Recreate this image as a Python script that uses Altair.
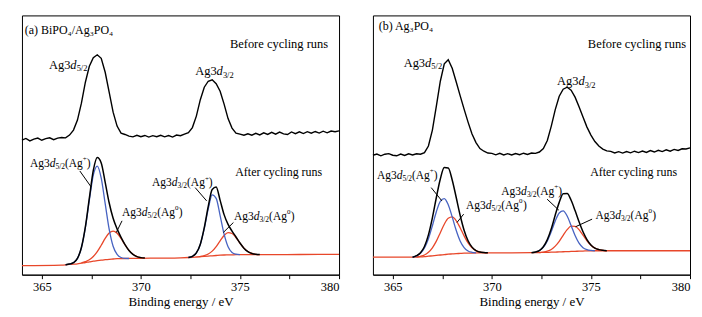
import altair as alt
import pandas as pd

FONT = "Liberation Serif"
BLACK = "#000000"
BLUE = "#4763c2"
RED = "#e8472a"

# ---------------- data (binding energy in eV, intensity in arbitrary units) ----------------
STEP = 0.2
BEFORE_X = [round(364 + STEP * i, 1) for i in range(81)]

BEFORE_A = [135.0, 136.6, 134.2, 135.9, 137.0, 134.8, 136.4, 137.3, 135.4, 136.9,
            137.5, 137.2, 140.0, 145.0, 155.0, 172.0, 193.0, 209.0, 217.5, 220.5,
            217.0, 203.0, 183.0, 163.0, 149.0, 142.0, 140.6, 139.0, 138.2, 139.8,
            138.4, 139.6, 138.0, 139.4, 138.3, 139.8, 138.2, 139.5, 138.0, 140.0,
            139.4, 141.0, 142.5, 147.5, 159.0, 175.5, 188.0, 194.0, 195.5, 191.5,
            184.0, 171.0, 156.5, 147.0, 142.0, 140.9, 139.8, 141.3, 139.9, 141.8,
            140.2, 142.2, 140.6, 142.8, 140.9, 143.0, 141.2, 140.6, 143.1, 141.4,
            143.2, 141.5, 143.4, 141.9, 143.6, 142.0, 143.9, 142.3, 144.0, 143.4,
            144.2]

BEFORE_B = [119.8, 121.0, 119.2, 120.8, 121.4, 119.8, 119.2, 120.9, 119.6, 121.2,
            120.0, 121.3, 120.8, 122.4, 129.0, 145.0, 169.0, 194.0, 211.5, 215.5,
            207.0, 193.5, 179.5, 166.0, 153.0, 141.0, 132.5, 126.5, 123.8, 122.0,
            121.6, 120.2, 121.7, 120.1, 121.4, 120.0, 121.5, 120.3, 121.8, 120.6,
            122.0, 121.6, 123.0, 126.5, 134.5, 149.0, 165.5, 179.0, 186.0, 188.0,
            185.0, 178.0, 168.5, 158.0, 148.0, 140.0, 133.5, 129.0, 126.0, 124.2,
            123.6, 122.0, 123.4, 121.9, 123.5, 122.2, 123.8, 122.4, 124.0, 122.6,
            124.4, 123.0, 124.7, 123.4, 125.2, 123.8, 125.6, 124.6, 126.2, 126.0,
            127.2]

BASE_A_X = [364.0, 366.0, 366.2, 366.4, 366.6, 366.8, 367.0, 367.2, 367.4, 367.6, 367.8,
            368.0, 368.2, 368.4, 368.6, 368.8, 369.0, 369.2, 369.6, 370.0, 371.0, 372.0,
            372.4, 372.6, 372.8, 373.0, 373.2, 373.4, 373.6, 373.8, 374.0, 374.2, 374.4,
            374.6, 374.8, 376.0, 378.0, 380.0]
BASE_A_Y = [9.0, 9.5, 9.8, 10.3, 10.5, 10.8, 11.5, 12.2, 12.8, 13.5, 14.0,
            14.5, 15.0, 15.4, 15.7, 16.0, 16.1, 16.2, 16.3, 16.4, 16.6, 16.9,
            17.2, 17.4, 17.7, 18.0, 18.3, 18.6, 18.9, 19.2, 19.5, 19.7, 19.8,
            19.9, 20.0, 20.1, 20.2, 20.3]

BASE_B_X = [364.0, 366.0, 366.2, 366.4, 366.6, 366.8, 367.0, 367.2, 367.4, 367.6, 367.8,
            368.0, 368.2, 368.4, 368.6, 368.8, 369.0, 369.4, 370.0, 372.0, 372.2, 372.4,
            372.6, 372.8, 373.0, 373.2, 373.4, 373.6, 373.8, 374.0, 374.2, 374.4, 374.6,
            374.8, 375.0, 380.0]
BASE_B_Y = [17.5, 17.5, 17.6, 17.8, 18.1, 18.5, 18.9, 19.3, 19.7, 20.1, 20.5,
            20.8, 21.1, 21.3, 21.5, 21.6, 21.7, 21.8, 21.9, 22.0, 22.1, 22.2,
            22.3, 22.4, 22.5, 22.7, 22.8, 23.0, 23.1, 23.3, 23.4, 23.6, 23.7,
            23.9, 24.0, 24.0]

# fitted components: (start eV, values every 0.2 eV)
BLUE_A_52 = (366.2, [9.9, 10.6, 12.0, 16.3, 27.0, 47.1, 74.6, 99.8, 108.9, 96.8, 71.2,
                     45.7, 28.5, 20.3, 17.2, 16.4, 16.2])
RED_A_52 = (367.0, [11.7, 13.0, 14.9, 18.2, 23.1, 29.5, 36.4, 41.8, 43.7, 41.6, 36.3,
                    30.0, 24.3, 20.4, 18.1, 17.1, 16.6])
ENV_A_52 = (366.2, [9.9, 10.6, 12.0, 16.3, 27.2, 47.9, 76.7, 104.5, 117.5, 112.0, 92.6,
                    72.1, 56.5, 45.9, 37.4, 30.2, 24.3, 20.4, 18.1, 17.1, 16.6])
BLUE_A_32 = (372.4, [17.2, 18.4, 21.8, 30.3, 46.3, 65.9, 80.0, 76.5, 59.2, 40.6, 28.0,
                     22.3, 20.5, 20.0])
RED_A_32 = (373.0, [18.2, 19.1, 20.7, 23.6, 28.2, 34.0, 39.3, 42.2, 41.3, 37.3, 31.7,
                    26.6, 23.2, 21.3, 20.4, 20.1])
ENV_A_32 = (372.4, [17.2, 18.4, 21.8, 30.5, 47.1, 68.5, 85.5, 88.0, 74.5, 60.2, 50.4,
                    43.7, 37.8, 31.7, 26.6, 23.2, 21.3, 20.4, 20.1])

BLUE_B_52 = (366.0, [17.5, 18.9, 21.4, 26.7, 36.0, 49.0, 63.1, 73.6, 76.3, 70.1, 57.9,
                     44.5, 33.8, 27.2, 23.8, 22.4, 21.8])
RED_B_52 = (366.2, [17.7, 18.4, 19.7, 22.4, 26.9, 33.6, 42.1, 50.6, 56.5, 57.9, 54.2,
                    47.1, 38.9, 31.8, 26.9, 24.1, 22.7, 22.2, 21.9])
ENV_B_52 = (366.0, [17.5, 19.0, 22.0, 28.3, 39.9, 57.0, 77.4, 96.0, 107.5, 107.0, 95.0,
                    77.6, 59.6, 44.6, 34.0, 27.6, 24.1, 22.7, 22.2, 21.9])
BLUE_B_32 = (372.2, [22.8, 24.2, 27.6, 33.9, 43.2, 53.9, 61.9, 64.0, 58.8, 49.3, 39.2,
                     31.6, 27.1, 25.1, 24.3, 24.0])
RED_B_32 = (372.4, [22.2, 22.7, 23.6, 25.3, 28.6, 33.4, 39.5, 45.1, 48.6, 48.5, 45.1,
                    39.6, 34.0, 29.5, 26.6, 25.1, 24.4, 24.0])
ENV_B_32 = (372.0, [22.0, 22.8, 24.2, 28.0, 35.1, 46.0, 59.8, 72.5, 81.2, 81.3, 74.6,
                    64.3, 53.1, 43.0, 35.2, 29.8, 26.6, 25.1, 24.4, 24.0])

PANEL_TITLES = {"a": "(a) BiPO\u2084/Ag\u2083PO\u2084", "b": "(b) Ag\u2083PO\u2084"}
TITLE_POS = {"a": (364.14, 245.0), "b": (364.29, 249.0)}
BEFORE_TEXT_POS = {"a": (379.45, 231.3), "b": (379.8, 231.3)}
AFTER_TEXT_POS = {"a": (379.15, 103.3), "b": (379.35, 103.3)}

# peak labels on the "before" curves: panel, x, y, subscript
PEAK_LABELS = [("a", 365.36, 210.7, "5/2"), ("a", 372.74, 204.0, "3/2"),
               ("b", 365.55, 212.3, "5/2"), ("b", 373.29, 194.0, "3/2")]
# component labels: panel, x, y, subscript, superscript
COMP_LABELS = [("a", 364.40, 111.3, "5/2", "+"), ("a", 369.05, 62.3, "5/2", "0"),
               ("a", 370.56, 91.7, "3/2", "+"), ("a", 374.70, 58.3, "3/2", "0"),
               ("b", 364.20, 99.0, "5/2", "+"), ("b", 368.70, 69.0, "5/2", "0"),
               ("b", 370.48, 83.3, "3/2", "+"), ("b", 375.23, 59.0, "3/2", "0")]
# leader lines: panel, x, y, x2, y2
LEADERS = [("a", 366.92, 104.0, 367.49, 88.0), ("a", 372.74, 87.3, 373.32, 74.0),
           ("a", 369.05, 54.0, 368.76, 42.3), ("a", 374.67, 52.3, 374.16, 42.3),
           ("b", 366.94, 87.3, 367.48, 74.0), ("b", 368.58, 60.7, 368.24, 52.3),
           ("b", 372.79, 75.7, 373.38, 64.7), ("b", 375.06, 55.7, 374.22, 48.0)]

# ---------------- helpers ----------------
xscale = alt.Scale(domain=[364, 380], nice=False, zero=False)
yscale = alt.Scale(domain=[0, 260], nice=False, zero=False)
xaxis = alt.Axis(values=[365, 367.5, 370, 372.5, 375, 377.5, 380],
                 labelExpr="datum.value % 5 == 0 ? datum.label : ''",
                 grid=False, tickSize=4, tickColor=BLACK, domainColor=BLACK,
                 labelFont=FONT, labelFontSize=12.5, labelColor=BLACK, labelPadding=2,
                 labelOverlap=False, title="Binding energy / eV", titleFont=FONT,
                 titleFontSize=13, titleFontWeight="normal", titleColor=BLACK, titlePadding=2)
X = alt.X("x:Q", scale=xscale, axis=xaxis)
Y = alt.Y("y:Q", scale=yscale, axis=None)


def comp_df(*comps):
    rows = []
    for k, (start, vals) in enumerate(comps):
        for i, v in enumerate(vals):
            rows.append({"x": round(start + STEP * i, 2), "y": v, "seg": k})
    return pd.DataFrame(rows)


def line(df, color, width, interp):
    return alt.Chart(df).mark_line(color=color, strokeWidth=width, interpolate=interp).encode(
        x=X, y=Y, detail="seg:N")


def text_layer(df, field, dx=0, dy=0, size=11.5, style="normal", align="left"):
    return alt.Chart(df).mark_text(align=align, baseline="middle", dx=dx, dy=dy, font=FONT,
                                   fontSize=size, fontStyle=style, color=BLACK).encode(
        x=X, y=Y, text=f"{field}:N")


def panel(p, before, bx, by, comps_blue, comps_red, comps_env):
    before_df = pd.DataFrame({"x": BEFORE_X, "y": before, "seg": 0})
    base_df = pd.DataFrame({"x": bx, "y": by, "seg": 0})
    layers = [
        line(before_df, BLACK, 1.4, "linear"),
        line(base_df, RED, 1.3, "monotone"),
        line(comp_df(*comps_red), RED, 1.3, "monotone"),
        line(comp_df(*comps_blue), BLUE, 1.3, "monotone"),
        line(comp_df(*comps_env), BLACK, 1.5, "monotone"),
    ]
    lead = pd.DataFrame([r[1:] for r in LEADERS if r[0] == p], columns=["x", "y", "x2", "y2"])
    layers.append(alt.Chart(lead).mark_rule(color=BLACK, strokeWidth=1).encode(
        x=X, y=Y, x2="x2:Q", y2="y2:Q"))

    tx, ty = TITLE_POS[p]
    layers.append(text_layer(pd.DataFrame({"x": [tx], "y": [ty], "t": [PANEL_TITLES[p]]}), "t", size=12))
    bx_, by_ = BEFORE_TEXT_POS[p]
    layers.append(text_layer(pd.DataFrame({"x": [bx_], "y": [by_], "t": ["Before cycling runs"]}),
                             "t", size=12.5, align="right"))
    ax_, ay_ = AFTER_TEXT_POS[p]
    layers.append(text_layer(pd.DataFrame({"x": [ax_], "y": [ay_], "t": ["After cycling runs"]}),
                             "t", size=12, align="right"))

    pk = pd.DataFrame([r[1:] for r in PEAK_LABELS if r[0] == p], columns=["x", "y", "sub"])
    pk["a"] = "Ag3"
    pk["d"] = "d"
    layers += [text_layer(pk, "a", size=12.5),
               text_layer(pk, "d", dx=21.5, size=12.5, style="italic"),
               text_layer(pk, "sub", dx=27.8, dy=3.5, size=8.5)]

    cl = pd.DataFrame([r[1:] for r in COMP_LABELS if r[0] == p], columns=["x", "y", "sub", "sup"])
    cl["a"] = "Ag3"
    cl["d"] = "d"
    cl["o"] = "(Ag"
    cl["c"] = ")"
    layers += [text_layer(cl, "a", size=11.5),
               text_layer(cl, "d", dx=19.8, size=11.5, style="italic"),
               text_layer(cl, "sub", dx=25.6, dy=3, size=7.5),
               text_layer(cl, "o", dx=35.2, size=11.5),
               text_layer(cl, "sup", dx=53.1, dy=-4.5, size=7),
               text_layer(cl, "c", dx=57.0, size=11.5)]
    return alt.layer(*layers).properties(width=318, height=260)


pa = panel("a", BEFORE_A, BASE_A_X, BASE_A_Y,
           [BLUE_A_52, BLUE_A_32], [RED_A_52, RED_A_32], [ENV_A_52, ENV_A_32])
pb = panel("b", BEFORE_B, BASE_B_X, BASE_B_Y,
           [BLUE_B_52, BLUE_B_32], [RED_B_52, RED_B_32], [ENV_B_52, ENV_B_32])

chart = alt.hconcat(pa, pb, spacing=26).properties(
    padding={"left": 10, "top": 6, "right": 0, "bottom": 0}, background="white"
).configure_view(stroke=BLACK, strokeWidth=1)

chart.save("out.html", embed_options={"renderer": "svg", "actions": False})
